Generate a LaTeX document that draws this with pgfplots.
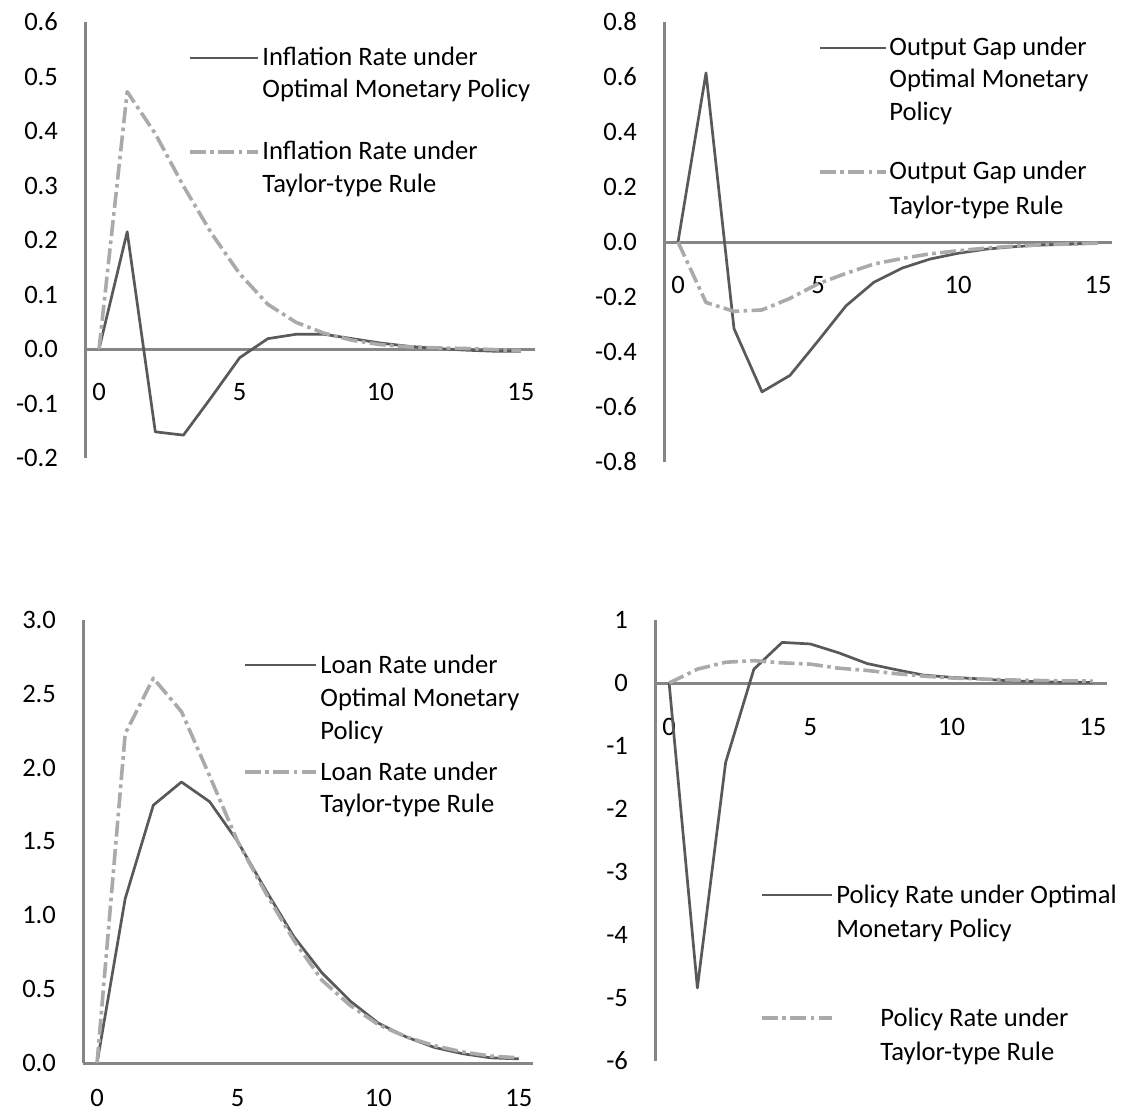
\documentclass[border=0pt]{standalone}
\usepackage{fontspec}
\setmainfont{Carlito}
\usepackage{pgfplots}
\pgfplotsset{compat=1.18}
\definecolor{optc}{RGB}{89,89,89}
\definecolor{tayc}{RGB}{170,170,170}
\definecolor{axc}{RGB}{134,134,134}
\tikzset{
  opt/.style={color=optc, line width=1.35pt, line join=round},
  tay/.style={color=tayc, line width=1.8pt, line join=round, dash pattern=on 8pt off 2.2pt on 1.8pt off 2.2pt},
}
\pgfplotsset{
  panel/.style={
    scale only axis,
    xmin=-0.5, xmax=15.5,
    axis x line*=middle, axis y line*=left,
    axis line style={draw=axc, line width=1.5pt, -},
    every inner x axis line/.append style={draw=axc, line width=1.5pt},
    every outer x axis line/.append style={draw=axc, line width=1.5pt},
    every outer y axis line/.append style={draw=axc, line width=1.5pt},
    xtick={0,5,10,15},
    xticklabels={0,5,10,15},
    major tick length=0pt,
    tick style={draw=none},
    ticklabel style={font=\fontsize{13.3}{16}\selectfont},
    yticklabel style={anchor=east, xshift=-10pt},
    clip=false,
  },
}
\newcommand{\lt}{\fontsize{13.3}{16}\selectfont}
\begin{document}
\begin{tikzpicture}[x=1pt,y=1pt]
% ---------- Panel 1: inflation ----------
\begin{axis}[panel, at={(42.5pt,329pt)}, anchor=south west, width=225pt, height=218pt,
  ymin=-0.2, ymax=0.6,
  ytick={-0.2,-0.1,0,0.1,0.2,0.3,0.4,0.5,0.6},
  yticklabels={-0.2,-0.1,0.0,0.1,0.2,0.3,0.4,0.5,0.6},
  xticklabel style={anchor=center, yshift=-21.5pt}]
\addplot[opt] coordinates {(0,0) (1,0.215) (2,-0.152) (3,-0.158) (4,-0.088) (5,-0.016) (6,0.019) (7,0.027) (8,0.027) (9,0.019) (10,0.011) (11,0.005) (12,0.001) (13,-0.002) (14,-0.004) (15,-0.004)};
\addplot[tay] coordinates {(0,0) (1,0.472) (2,0.395) (3,0.299) (4,0.212) (5,0.138) (6,0.082) (7,0.049) (8,0.029) (9,0.016) (10,0.008) (11,0.004) (12,0.002) (13,0.001) (14,-0.001) (15,-0.003)};
\end{axis}
% ---------- Panel 2: output gap ----------
\begin{axis}[panel, at={(332pt,327pt)}, anchor=south west, width=224pt, height=220pt,
  ymin=-0.8, ymax=0.8,
  ytick={-0.8,-0.6,-0.4,-0.2,0,0.2,0.4,0.6,0.8},
  yticklabels={-0.8,-0.6,-0.4,-0.2,0.0,0.2,0.4,0.6,0.8},
  xticklabel style={anchor=center, yshift=-21.5pt}]
\addplot[opt] coordinates {(0,0) (1,0.615) (2,-0.315) (3,-0.545) (4,-0.485) (5,-0.36) (6,-0.232) (7,-0.146) (8,-0.095) (9,-0.062) (10,-0.041) (11,-0.026) (12,-0.017) (13,-0.011) (14,-0.008) (15,-0.004)};
\addplot[tay] coordinates {(0,0) (1,-0.22) (2,-0.252) (3,-0.247) (4,-0.205) (5,-0.152) (6,-0.114) (7,-0.08) (8,-0.06) (9,-0.043) (10,-0.032) (11,-0.022) (12,-0.015) (13,-0.01) (14,-0.007) (15,-0.004)};
\end{axis}
% ---------- Panel 3: loan rate ----------
\begin{axis}[panel, at={(41.5pt,26.5pt)}, anchor=south west, width=225pt, height=221.5pt,
  ymin=0, ymax=3,
  ytick={0,0.5,1,1.5,2,2.5,3},
  yticklabels={0.0,0.5,1.0,1.5,2.0,2.5,3.0},
  xticklabel style={anchor=center, yshift=-17.5pt}]
\addplot[opt] coordinates {(0,0) (1,1.113) (2,1.746) (3,1.903) (4,1.77) (5,1.5) (6,1.17) (7,0.855) (8,0.61) (9,0.42) (10,0.27) (11,0.176) (12,0.105) (13,0.063) (14,0.035) (15,0.028)};
\addplot[tay] coordinates {(0,0) (1,2.23) (2,2.606) (3,2.38) (4,1.945) (5,1.5) (6,1.15) (7,0.83) (8,0.56) (9,0.39) (10,0.26) (11,0.176) (12,0.117) (13,0.075) (14,0.047) (15,0.035)};
\end{axis}
% ---------- Panel 4: policy rate ----------
\begin{axis}[panel, at={(327.5pt,27.5pt)}, anchor=south west, width=226pt, height=220.5pt,
  ymin=-6, ymax=1,
  ytick={-6,-5,-4,-3,-2,-1,0,1},
  yticklabels={-6,-5,-4,-3,-2,-1,0,1},
  xticklabel style={anchor=center, yshift=-22pt}]
\addplot[opt] coordinates {(0,0) (1,-4.84) (2,-1.26) (3,0.22) (4,0.645) (5,0.62) (6,0.48) (7,0.31) (8,0.215) (9,0.126) (10,0.09) (11,0.066) (12,0.035) (13,0.022) (14,0.012) (15,0.01)};
\addplot[tay] coordinates {(0,0) (1,0.22) (2,0.33) (3,0.355) (4,0.32) (5,0.3) (6,0.235) (7,0.2) (8,0.15) (9,0.11) (10,0.08) (11,0.065) (12,0.05) (13,0.04) (14,0.035) (15,0.03)};
\end{axis}
% ---------- Legends ----------
% panel 1
\draw[opt] (95,529) -- (129,529);
\node[anchor=base west, inner sep=0pt] at (131,525) {\lt Inflation Rate under};
\node[anchor=base west, inner sep=0pt] at (131,509) {\lt Optimal Monetary Policy};
\draw[tay] (95,482) -- (129,482);
\node[anchor=base west, inner sep=0pt] at (131,478) {\lt Inflation Rate under};
\node[anchor=base west, inner sep=0pt] at (131,461.5) {\lt Taylor-type Rule};
% panel 2
\draw[opt] (410,534) -- (443,534);
\node[anchor=base west, inner sep=0pt] at (444.5,530) {\lt Output Gap under};
\node[anchor=base west, inner sep=0pt] at (444.5,514) {\lt Optimal Monetary};
\node[anchor=base west, inner sep=0pt] at (444.5,497.5) {\lt Policy};
\draw[tay] (410,472) -- (443,472);
\node[anchor=base west, inner sep=0pt] at (444.5,468) {\lt Output Gap under};
\node[anchor=base west, inner sep=0pt] at (444.5,450.5) {\lt Taylor-type Rule};
% panel 3
\draw[opt] (122.5,225.5) -- (158,225.5);
\node[anchor=base west, inner sep=0pt] at (160,221.5) {\lt Loan Rate under};
\node[anchor=base west, inner sep=0pt] at (160,205) {\lt Optimal Monetary};
\node[anchor=base west, inner sep=0pt] at (160,188.5) {\lt Policy};
\draw[tay] (122.5,172) -- (158,172);
\node[anchor=base west, inner sep=0pt] at (160,168) {\lt Loan Rate under};
\node[anchor=base west, inner sep=0pt] at (160,152) {\lt Taylor-type Rule};
% panel 4
\draw[opt] (381,110.5) -- (416,110.5);
\node[anchor=base west, inner sep=0pt] at (418,106.5) {\lt Policy Rate under Optimal};
\node[anchor=base west, inner sep=0pt] at (418,89.5) {\lt Monetary Policy};
\draw[tay] (381,49) -- (416,49);
\node[anchor=base west, inner sep=0pt] at (440,45) {\lt Policy Rate under};
\node[anchor=base west, inner sep=0pt] at (440,28) {\lt Taylor-type Rule};
\pgfresetboundingbox
\useasboundingbox (0,0) rectangle (561,558);
\end{tikzpicture}
\end{document}
